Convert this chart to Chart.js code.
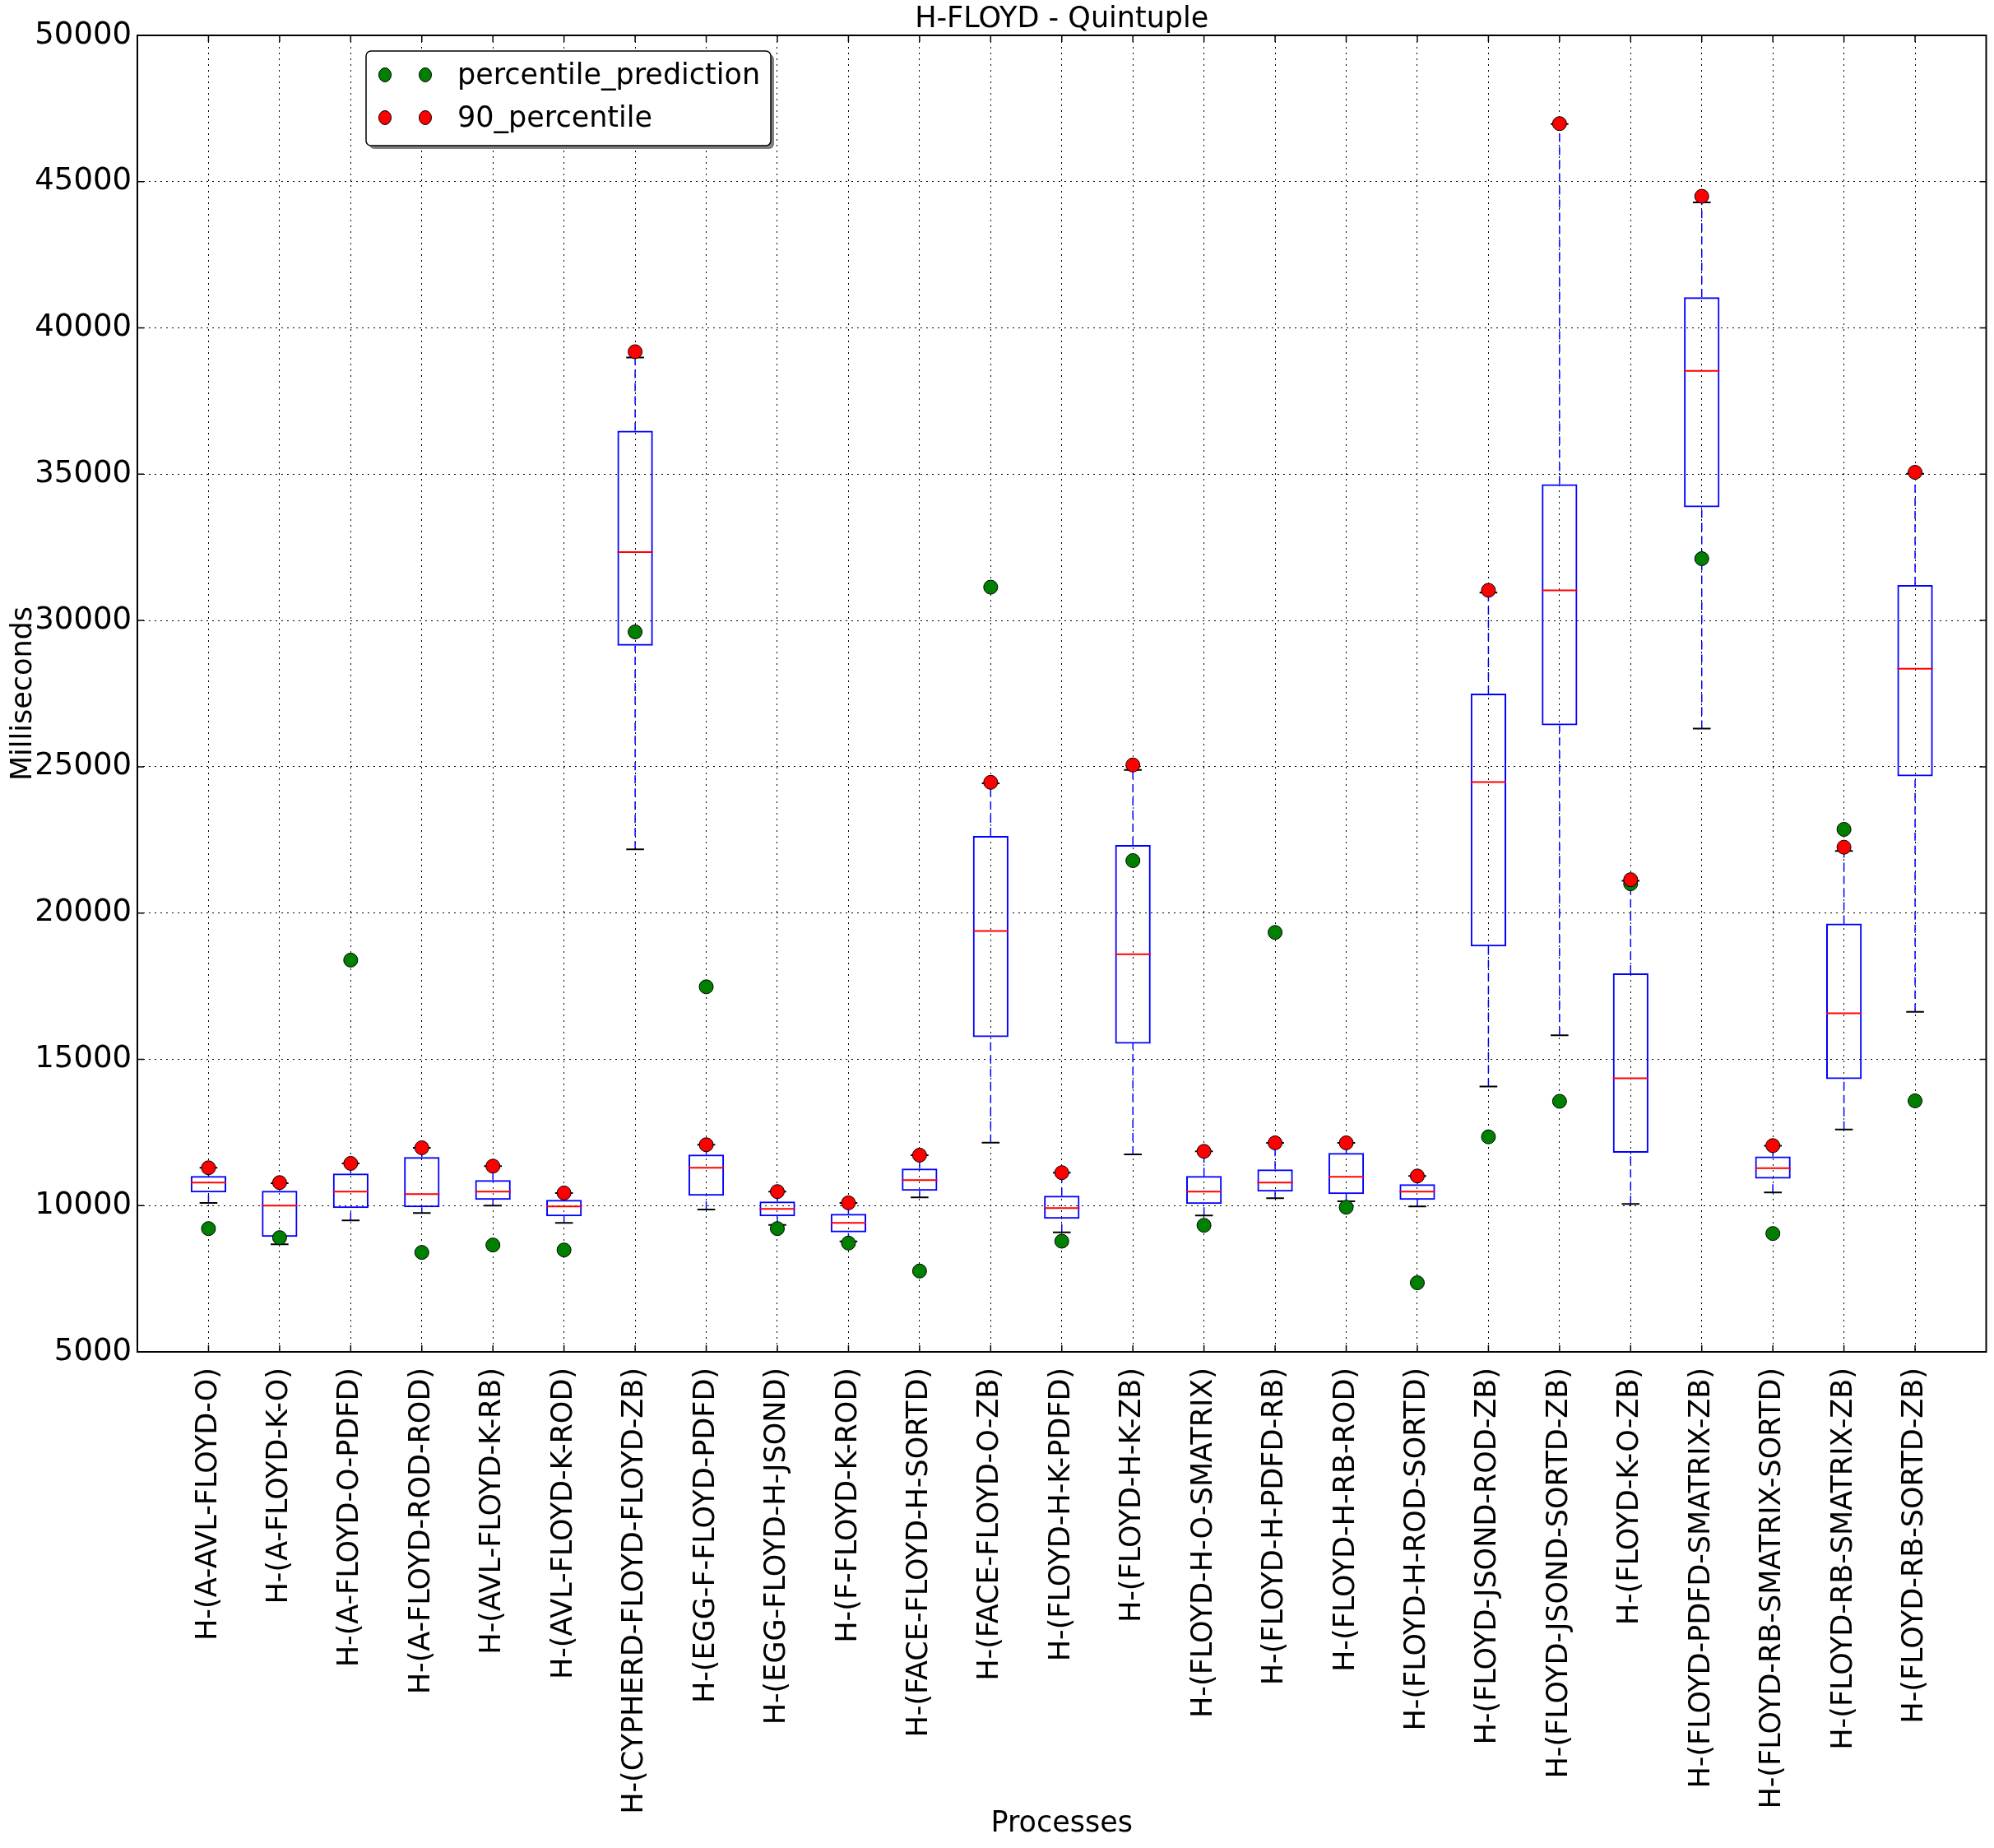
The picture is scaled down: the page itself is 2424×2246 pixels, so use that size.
<!DOCTYPE html>
<html>
<head>
<meta charset="utf-8">
<title>H-FLOYD - Quintuple</title>
<script src="https://cdn.jsdelivr.net/npm/chart.js@4.4.1/dist/chart.umd.min.js"></script>
<style>
  html, body { margin: 0; padding: 0; background: #fff; }
  #wrap { width: 2424px; height: 2246px; }
</style>
</head>
<body>
<div id="wrap"><canvas id="boxChart" width="2424" height="2246"></canvas></div>
<script>
const processes = [
    'H-(A-AVL-FLOYD-O)', 'H-(A-FLOYD-K-O)', 'H-(A-FLOYD-O-PDFD)', 'H-(A-FLOYD-ROD-ROD)',
    'H-(AVL-FLOYD-K-RB)', 'H-(AVL-FLOYD-K-ROD)', 'H-(CYPHERD-FLOYD-FLOYD-ZB)', 'H-(EGG-F-FLOYD-PDFD)',
    'H-(EGG-FLOYD-H-JSOND)', 'H-(F-FLOYD-K-ROD)', 'H-(FACE-FLOYD-H-SORTD)', 'H-(FACE-FLOYD-O-ZB)',
    'H-(FLOYD-H-K-PDFD)', 'H-(FLOYD-H-K-ZB)', 'H-(FLOYD-H-O-SMATRIX)', 'H-(FLOYD-H-PDFD-RB)',
    'H-(FLOYD-H-RB-ROD)', 'H-(FLOYD-H-ROD-SORTD)', 'H-(FLOYD-JSOND-ROD-ZB)', 'H-(FLOYD-JSOND-SORTD-ZB)',
    'H-(FLOYD-K-O-ZB)', 'H-(FLOYD-PDFD-SMATRIX-ZB)', 'H-(FLOYD-RB-SMATRIX-SORTD)', 'H-(FLOYD-RB-SMATRIX-ZB)',
    'H-(FLOYD-RB-SORTD-ZB)'
];

// box plot statistics per process (milliseconds)
const whiskerLow  = [10094, 8680, 9494, 9747, 10000, 9410, 22174, 9869, 9335, 8773, 10281, 12153, 9082, 11751, 9663, 10253, 10150, 9972, 14070, 15820, 10056, 26306, 10449, 12600, 16620];
const quartile1   = [10449, 8933, 9916, 9944, 10197, 9635, 29138, 10337, 9635, 9082, 10506, 15755, 9551, 15534, 10056, 10478, 10393, 10197, 18860, 26418, 11808, 33870, 10920, 14320, 24676];
const medians     = [10786, 10000, 10478, 10393, 10478, 9972, 32337, 11292, 9888, 9410, 10871, 19387, 9916, 18592, 10478, 10786, 10983, 10478, 24475, 31032, 14355, 38532, 11280, 16575, 28354];
const quartile3   = [11011, 10506, 11095, 11657, 10871, 10197, 36489, 11741, 10140, 9719, 11264, 22636, 10337, 22324, 11011, 11236, 11798, 10730, 27499, 34660, 17940, 41048, 11680, 19640, 31209];
const whiskerHigh = [11292, 10768, 11442, 11976, 11348, 10431, 38987, 12079, 10478, 10094, 11723, 24435, 11124, 24889, 11854, 12144, 12144, 11011, 30951, 46968, 21100, 44290, 12043, 22120, 35016];

// scatter series
const percentilePrediction = [9213, 8905, 18391, 8399, 8652, 8483, 29609, 17478, 9213, 8717, 7762, 31140, 8783, 21791, 9326, 19336, 9944, 7360, 12350, 13565, 21000, 32112, 9045, 22860, 13580];
const percentile90         = [11292, 10786, 11442, 11976, 11348, 10431, 39188, 12079, 10478, 10094, 11723, 24467, 11124, 25060, 11854, 12144, 12144, 11011, 31032, 46984, 21140, 44500, 12050, 22250, 35064];

const yTicks = [5000, 10000, 15000, 20000, 25000, 30000, 35000, 40000, 45000, 50000];
const xTicks = processes.map((_, i) => i + 1);

Chart.defaults.font.family = '"DejaVu Sans", sans-serif';
Chart.defaults.font.size = 35;
Chart.defaults.color = '#000';

// whiskers / caps / medians as broken line paths (null breaks the path)
const whiskerPts = [];
const capPts = [];
const medianPts = [];
xTicks.forEach((x, i) => {
    whiskerPts.push({x: x, y: whiskerLow[i]}, {x: x, y: quartile1[i]}, {x: x, y: null},
                    {x: x, y: quartile3[i]}, {x: x, y: whiskerHigh[i]}, {x: x, y: null});
    capPts.push({x: x - 0.125, y: whiskerLow[i]}, {x: x + 0.125, y: whiskerLow[i]}, {x: x, y: null},
                {x: x - 0.125, y: whiskerHigh[i]}, {x: x + 0.125, y: whiskerHigh[i]}, {x: x, y: null});
    medianPts.push({x: x - 0.25, y: medians[i]}, {x: x + 0.25, y: medians[i]}, {x: x, y: null});
});

// matplotlib-like frame with inward ticks
const frameTicks = {
    id: 'frameTicks',
    afterDatasetsDraw(chart) {
        const {ctx, chartArea: a, scales: {x, y}} = chart;
        ctx.save();
        ctx.strokeStyle = '#000';
        ctx.lineWidth = 2;
        ctx.strokeRect(a.left, a.top, a.right - a.left, a.bottom - a.top);
        ctx.lineWidth = 1.5;
        ctx.beginPath();
        xTicks.forEach(v => {
            const px = x.getPixelForValue(v);
            ctx.moveTo(px, a.bottom); ctx.lineTo(px, a.bottom - 8);
            ctx.moveTo(px, a.top); ctx.lineTo(px, a.top + 8);
        });
        yTicks.forEach(v => {
            const py = y.getPixelForValue(v);
            ctx.moveTo(a.left, py); ctx.lineTo(a.left + 8, py);
            ctx.moveTo(a.right, py); ctx.lineTo(a.right - 8, py);
        });
        ctx.stroke();
        ctx.restore();
    }
};

// legend drawn inside the plot, two markers per entry
const insetLegend = {
    id: 'insetLegend',
    afterDraw(chart) {
        const {ctx, chartArea: a} = chart;
        const entries = chart.data.datasets.slice(0, 2);
        const bx = a.left + 278, by = a.top + 19, bw = 492, bh = 115;
        ctx.save();
        ctx.fillStyle = '#808080';
        ctx.beginPath(); ctx.roundRect(bx + 4, by + 4, bw, bh, 6); ctx.fill();
        ctx.fillStyle = '#fff';
        ctx.strokeStyle = '#000';
        ctx.lineWidth = 1.5;
        ctx.beginPath(); ctx.roundRect(bx, by, bw, bh, 6); ctx.fill(); ctx.stroke();
        ctx.font = '35px "DejaVu Sans", sans-serif';
        ctx.textBaseline = 'middle';
        entries.forEach((d, k) => {
            const cy = by + 29 + k * 52;
            [23, 72].forEach(dx => {
                ctx.beginPath();
                ctx.ellipse(bx + dx, cy, 7.5, 8.5, 0, 0, Math.PI * 2);
                ctx.fillStyle = d.pointBackgroundColor;
                ctx.fill();
                ctx.lineWidth = 1;
                ctx.stroke();
            });
            ctx.fillStyle = '#000';
            ctx.fillText(d.label, bx + 111, cy + 2);
        });
        ctx.restore();
    }
};

new Chart(document.getElementById('boxChart').getContext('2d'), {
    type: 'bar',
    data: {
        datasets: [
            {
                type: 'line',
                label: 'percentile_prediction',
                data: xTicks.map((x, i) => ({x: x, y: percentilePrediction[i]})),
                showLine: false,
                pointRadius: 8.5,
                pointBackgroundColor: '#008000',
                pointBorderColor: '#000',
                pointBorderWidth: 1,
                order: 1
            },
            {
                type: 'line',
                label: '90_percentile',
                data: xTicks.map((x, i) => ({x: x, y: percentile90[i]})),
                showLine: false,
                pointRadius: 8.5,
                pointBackgroundColor: '#ff0000',
                pointBorderColor: '#000',
                pointBorderWidth: 1,
                order: 0
            },
            {
                type: 'line',
                label: 'medians',
                data: medianPts,
                borderColor: '#ff0000',
                borderWidth: 2,
                pointRadius: 0,
                spanGaps: false,
                order: 2
            },
            {
                type: 'line',
                label: 'caps',
                data: capPts,
                borderColor: '#000',
                borderWidth: 2,
                pointRadius: 0,
                spanGaps: false,
                order: 3
            },
            {
                type: 'bar',
                label: 'boxes',
                data: xTicks.map((x, i) => ({x: x, y: [quartile1[i], quartile3[i]]})),
                borderColor: '#0000ff',
                borderWidth: 2,
                borderSkipped: false,
                backgroundColor: 'rgba(0,0,0,0)',
                barPercentage: 0.5,
                categoryPercentage: 1,
                order: 4
            },
            {
                type: 'line',
                label: 'whiskers',
                data: whiskerPts,
                borderColor: '#0000ff',
                borderWidth: 1.5,
                borderDash: [10, 6],
                pointRadius: 0,
                spanGaps: false,
                order: 5
            }
        ]
    },
    options: {
        responsive: false,
        animation: false,
        layout: { padding: { left: 0, right: 9, top: 0, bottom: 0 } },
        plugins: {
            legend: { display: false },
            tooltip: { enabled: false }
        },
        scales: {
            x: {
                type: 'linear',
                min: 0,
                max: 26,
                offset: false,
                afterBuildTicks: s => { s.ticks = xTicks.map(v => ({value: v})); },
                ticks: {
                    autoSkip: false,
                    minRotation: 90,
                    maxRotation: 90,
                    padding: 19,
                    callback: v => processes[v - 1]
                },
                grid: { offset: false, color: '#000', lineWidth: 1, drawTicks: false },
                border: { display: false, dash: [2, 5] },
                title: { display: true, text: 'Processes', padding: { top: 0, bottom: 8 } },
                afterFit: s => { s.height = 603; }
            },
            // top axis only carries the chart title, centred over the plot
            xTop: {
                type: 'linear',
                position: 'top',
                min: 0,
                max: 26,
                ticks: { display: false },
                grid: { display: false, drawTicks: false },
                border: { display: false },
                title: { display: true, text: 'H-FLOYD - Quintuple', padding: { top: 3, bottom: 0 } },
                afterFit: s => { s.height = 43; }
            },
            y: {
                type: 'linear',
                min: 5000,
                max: 50000,
                afterBuildTicks: s => { s.ticks = yTicks.map(v => ({value: v})); },
                ticks: { padding: 7, font: { size: 37 }, callback: v => String(v) },
                grid: { color: '#000', lineWidth: 1, drawTicks: false },
                border: { display: false, dash: [2, 5] },
                title: { display: true, text: 'Milliseconds', padding: { top: 8, bottom: 0 } },
                afterFit: s => { s.width = 167; }
            }
        }
    },
    plugins: [frameTicks, insetLegend]
});
</script>
</body>
</html>
